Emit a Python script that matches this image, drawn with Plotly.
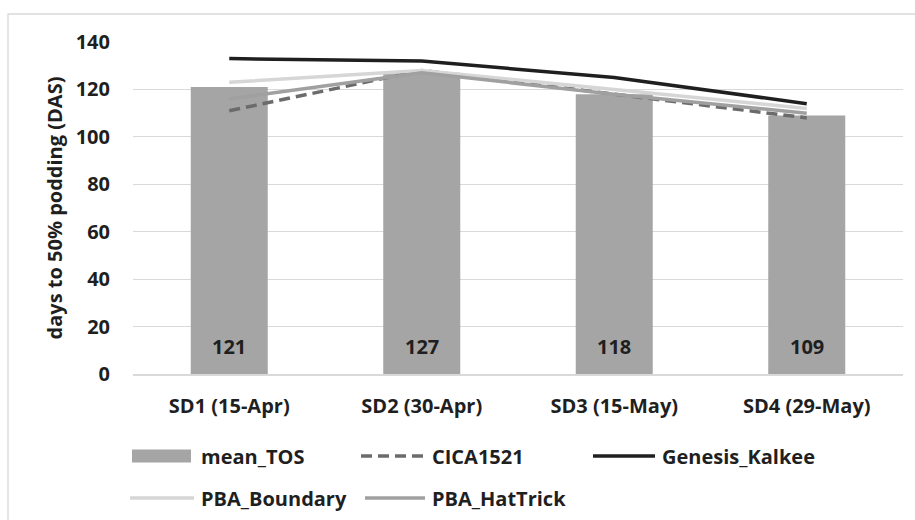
import plotly.graph_objects as go

# --- data -------------------------------------------------------------------
sowing_dates = ["SD1 (15-Apr)", "SD2 (30-Apr)", "SD3 (15-May)", "SD4 (29-May)"]
mean_tos = [121, 127, 118, 109]
cica1521 = [111, 128, 118, 108]
genesis_kalkee = [133, 132, 125, 114]
pba_boundary = [123, 128, 120, 112]
pba_hattrick = [116, 127, 118, 110]
y_ticks = [0, 20, 40, 60, 80, 100, 120, 140]

# --- styling ------------------------------------------------------------------
FONT = "Open Sans"
TXT = "#1f1f1f"
BAR_C = "#a5a5a5"
GRID_C = "#d9d9d9"
line_series = [
    ("CICA1521", cica1521, "#6b6b6b", "11px,6px"),
    ("Genesis_Kalkee", genesis_kalkee, "#1f1f1f", "solid"),
    ("PBA_Boundary", pba_boundary, "#d6d6d6", "solid"),
    ("PBA_HatTrick", pba_hattrick, "#a0a0a0", "solid"),
]

W, H = 915, 520
L, R, T, B = 133, 12, 42, 146
PW, PH = W - L - R, H - T - B


def px_x(px):
    return (px - L) / PW


def px_y(py):
    return (H - B - py) / PH


fig = go.Figure()

fig.add_trace(go.Bar(
    x=sowing_dates, y=mean_tos, name="mean_TOS",
    marker=dict(color=BAR_C, line=dict(width=0)),
    width=0.4, showlegend=False, hoverinfo="x+y",
))

for name, vals, color, dash in line_series:
    fig.add_trace(go.Scatter(
        x=sowing_dates, y=vals, name=name, mode="lines",
        line=dict(color=color, width=3.5, dash=dash),
        showlegend=False,
    ))

# value labels at the base of each bar
annotations = []
for cat, v in zip(sowing_dates, mean_tos):
    annotations.append(dict(
        x=cat, y=0, xref="x", yref="y", text=str(v), showarrow=False,
        yanchor="bottom", yshift=12,
        font=dict(family=FONT, size=20, color=TXT, weight="bold"),
    ))

# legend, laid out in two rows below the axis
shapes = []
legend_rows = [
    [("mean_TOS", "bar", BAR_C, None, 132, 191, 199),
     ("CICA1521", "line", "#6b6b6b", "dash", 361, 425, 430),
     ("Genesis_Kalkee", "line", "#1f1f1f", None, 593, 655, 660)],
    [("PBA_Boundary", "line", "#d6d6d6", None, 130, 194, 199),
     ("PBA_HatTrick", "line", "#a0a0a0", None, 365, 425, 430)],
]
row_y = [456, 498]
for row, yy in zip(legend_rows, row_y):
    for label, kind, color, dash, x0, x1, tx in row:
        if kind == "bar":
            shapes.append(dict(
                type="rect", xref="paper", yref="paper",
                x0=px_x(x0), x1=px_x(x1), y0=px_y(yy + 6.5), y1=px_y(yy - 6.5),
                fillcolor=color, line=dict(width=0),
            ))
        else:
            shapes.append(dict(
                type="line", xref="paper", yref="paper",
                x0=px_x(x0), x1=px_x(x1), y0=px_y(yy), y1=px_y(yy),
                line=dict(color=color, width=3.5,
                          dash="11px,6px" if dash else "solid"),
            ))
        annotations.append(dict(
            x=px_x(tx), y=px_y(yy), xref="paper", yref="paper",
            text=label, showarrow=False, xanchor="left", yanchor="middle",
            font=dict(family=FONT, size=20, color=TXT, weight="bold"),
        ))

# chart frame
shapes.append(dict(
    type="rect", xref="paper", yref="paper",
    x0=px_x(8), x1=px_x(930), y0=px_y(535), y1=px_y(14),
    line=dict(color=GRID_C, width=1.3), fillcolor="rgba(0,0,0,0)", layer="below",
))

fig.update_layout(
    width=W, height=H,
    margin=dict(l=L, r=R, t=T, b=B),
    paper_bgcolor="white", plot_bgcolor="white",
    showlegend=False,
    shapes=shapes, annotations=annotations,
    font=dict(family=FONT, size=20, color=TXT),
    xaxis=dict(
        type="category", showgrid=False, zeroline=False,
        showline=True, linecolor=GRID_C, linewidth=1.5,
        ticks="", ticklabelstandoff=13,
        tickfont=dict(family=FONT, size=20, color=TXT, weight="bold"),
    ),
    yaxis=dict(
        range=[0, 140], tickvals=y_ticks, showgrid=True, gridcolor=GRID_C,
        gridwidth=1.3, zeroline=False, showline=False, ticks="",
        ticklabelstandoff=22,
        tickfont=dict(family=FONT, size=20, color=TXT, weight="bold"),
        title=dict(text="days to 50% podding (DAS)", standoff=7,
                   font=dict(family=FONT, size=20, color=TXT, weight="bold")),
    ),
)

fig.write_html("out.html")
